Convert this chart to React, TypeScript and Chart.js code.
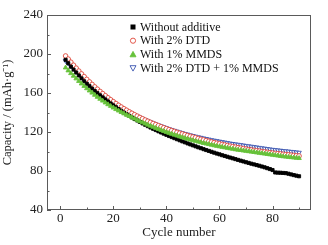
import React, { useEffect, useRef } from "react";
import { Chart, registerables } from "chart.js";

Chart.register(...registerables);

const cycles: number[] = [];
for (let c = 2; c <= 90; c++) cycles.push(c);

const withoutAdditive = [
  194, 190.5, 187, 184, 181, 178, 175, 172, 169.5, 167, 164.5, 162, 159.8, 157.6, 155.5, 153.4, 151.3, 149.3, 147.3,
  145.4, 143.5, 141.7, 139.9, 138.2, 136.5, 134.9, 133.3, 131.8, 130.3, 128.8, 127.4, 126, 124.6, 123.3, 122, 120.7,
  119.5, 118.3, 117.1, 115.9, 114.8, 113.7, 112.6, 111.5, 110.4, 109.4, 108.3, 107.3, 106.3, 105.3, 104.3, 103.4,
  102.4, 101.5, 100.6, 99.7, 98.8, 97.9, 97.1, 96.2, 95.4, 94.6, 93.8, 93, 92.2, 91.4, 90.6, 89.8, 89, 88.3, 87.5,
  86.8, 86.1, 85.4, 84.6, 83.8, 82.9, 82, 81, 78.5, 78.3, 78.2, 78, 77.8, 77.2, 76.5, 75.8, 75.2, 74.6,
];

const with2DTD = [
  198, 194.8, 191.6, 188.5, 185.5, 182.5, 179.6, 176.8, 174, 171.4, 168.8, 166.3, 163.9, 161.6, 159.4, 157.2, 155.1,
  153.1, 151.1, 149.2, 147.4, 145.6, 143.9, 142.3, 140.7, 139.2, 137.7, 136.3, 134.9, 133.6, 132.3, 131.1, 129.9,
  128.7, 127.6, 126.5, 125.4, 124.4, 123.4, 122.4, 121.5, 120.6, 119.7, 118.8, 118, 117.2, 116.4, 115.6, 114.9, 114.2,
  113.4, 112.6, 111.9, 111.2, 110.5, 109.8, 109.1, 108.5, 107.9, 107.3, 106.7, 106.1, 105.5, 105, 104.5, 104, 103.5,
  103, 102.5, 102, 101.6, 101.2, 100.8, 100.4, 100, 99.6, 99.2, 98.8, 98.4, 98.1, 97.8, 97.5, 97.2, 96.9, 96.6, 96.3,
  96, 95.7, 95.4,
];

const with1MMDS = [
  186, 183, 180.2, 177.5, 174.8, 172.2, 169.6, 167.1, 164.7, 162.4, 160.2, 158, 155.9, 153.9, 152, 150.1, 148.3, 146.6,
  144.9, 143.3, 141.8, 140.3, 138.9, 137.5, 136.2, 134.9, 133.6, 132.2, 130.9, 129.7, 128.5, 127.3, 126.2, 125.1, 124,
  122.9, 121.9, 120.9, 119.9, 118.9, 118, 117.1, 116.2, 115.3, 114.5, 113.7, 112.9, 112.1, 111.4, 110.7, 110, 109.3,
  108.6, 108, 107.4, 106.8, 106.2, 105.6, 105.1, 104.6, 104.1, 103.6, 103.1, 102.6, 102.1, 101.7, 101.3, 100.9, 100.5,
  100.1, 99.7, 99.3, 98.9, 98.5, 98.1, 97.7, 97.3, 96.9, 96.5, 96.1, 95.7, 95.3, 94.9, 94.6, 94.3, 94, 93.7, 93.4,
  93.1,
];

const withBoth = [
  193, 190.5, 188, 185.3, 182.5, 179.8, 177.1, 174.5, 171.9, 169.4, 167, 164.6, 162.3, 160.1, 158, 155.9, 153.9, 152,
  150.1, 148.3, 146.6, 144.9, 143.3, 141.8, 140.3, 138.9, 137.5, 136.2, 134.9, 133.7, 132.5, 131.3, 130.2, 129.1, 128,
  127, 126, 125, 124.1, 123.2, 122.3, 121.4, 120.6, 119.8, 119, 118.2, 117.5, 116.8, 116.1, 115.4, 114.8, 114.2, 113.6,
  113, 112.4, 111.8, 111.3, 110.8, 110.3, 109.8, 109.3, 108.8, 108.3, 107.9, 107.5, 107.1, 106.7, 106.3, 105.9, 105.5,
  105.1, 104.7, 104.3, 103.9, 103.5, 103.1, 102.7, 102.3, 101.9, 101.6, 101.3, 101, 100.7, 100.4, 100.1, 99.8, 99.5,
  99.2, 98.9,
];

const seriesLabels = ["Without additive", "With 2% DTD", "With 1% MMDS", "With 2% DTD + 1% MMDS"];
const xTicks = [0, 20, 40, 60, 80];
const xMinorTicks = [10, 30, 50, 70, 90];
const yTicks = [40, 80, 120, 160, 200, 240];
const yMinorTicks = [60, 100, 140, 180, 220];

const FONT = "'Liberation Serif', 'Times New Roman', serif";
const AXIS_COLOR = "#5a5a5a";

export default function App() {
  const ref = useRef<HTMLCanvasElement | null>(null);
  useEffect(() => {
    if (!ref.current) return;
    const toPts = (arr: number[]) => arr.map((v, i) => ({ x: cycles[i], y: v }));
    const styles = [
      { style: "rect", bg: "#000000", border: "#000000", radius: 2.2, rot: 0 },
      { style: "circle", bg: "#ffffff", border: "#e0473a", radius: 2.3, rot: 0 },
      { style: "triangle", bg: "#66c23a", border: "#66c23a", radius: 2.6, rot: 0 },
      { style: "triangle", bg: "#ffffff", border: "#3a55b0", radius: 2.6, rot: 180 },
    ];
    const allData = [withoutAdditive, with2DTD, with1MMDS, withBoth];
    const order = [2, 0, 1, 3];
    const datasets = order.map((k) => ({
      label: seriesLabels[k],
      data: toPts(allData[k]),
      showLine: false,
      pointStyle: styles[k].style as any,
      pointRadius: styles[k].radius,
      pointRotation: styles[k].rot,
      pointBackgroundColor: styles[k].bg,
      pointBorderColor: styles[k].border,
      pointBorderWidth: 0.9,
    }));

    function drawMarker(ctx: CanvasRenderingContext2D, k: number, x: number, y: number, bg: string, border: string) {
      ctx.beginPath();
      if (k === 0) {
        ctx.fillStyle = bg;
        ctx.fillRect(x - 2.5, y - 2.5, 5, 5);
        return;
      }
      if (k === 1) {
        ctx.arc(x, y, 2.6, 0, Math.PI * 2);
      } else if (k === 2) {
        ctx.moveTo(x, y - 3);
        ctx.lineTo(x + 3, y + 2.4);
        ctx.lineTo(x - 3, y + 2.4);
        ctx.closePath();
      } else {
        ctx.moveTo(x, y + 3);
        ctx.lineTo(x + 3, y - 2.4);
        ctx.lineTo(x - 3, y - 2.4);
        ctx.closePath();
      }
      ctx.fillStyle = bg;
      ctx.fill();
      ctx.lineWidth = 0.9;
      ctx.strokeStyle = border;
      ctx.stroke();
    }

    const decor = {
      id: "decor",
      afterDatasetsDraw(chart: any) {
        const ctx = chart.ctx;
        const { left, right, top, bottom } = chart.chartArea;
        const xs = chart.scales.x;
        const ys = chart.scales.y;
        ctx.save();
        ctx.strokeStyle = AXIS_COLOR;
        ctx.lineWidth = 1;
        ctx.strokeRect(left + 0.5, top + 0.5, right - left - 1, bottom - top - 1);
        ctx.beginPath();
        xTicks.forEach((t) => {
          const px = Math.round(xs.getPixelForValue(t)) + 0.5;
          ctx.moveTo(px, bottom);
          ctx.lineTo(px, bottom - 4);
        });
        xMinorTicks.forEach((t) => {
          const px = Math.round(xs.getPixelForValue(t)) + 0.5;
          ctx.moveTo(px, bottom);
          ctx.lineTo(px, bottom - 2.5);
        });
        yTicks.forEach((t) => {
          const py = Math.round(ys.getPixelForValue(t)) + 0.5;
          ctx.moveTo(left, py);
          ctx.lineTo(left + 4, py);
        });
        yMinorTicks.forEach((t) => {
          const py = Math.round(ys.getPixelForValue(t)) + 0.5;
          ctx.moveTo(left, py);
          ctx.lineTo(left + 2.5, py);
        });
        ctx.stroke();

        // legend
        const lx = 133;
        const ly0 = 27;
        const dy = 13.7;
        ctx.font = `12px ${FONT}`;
        ctx.textBaseline = "middle";
        ctx.textAlign = "left";
        [0, 1, 2, 3].forEach((k, i) => {
          const y = ly0 + i * dy;
          const s = styles[k];
          drawMarker(ctx, k, lx, y, s.bg, s.border);
          ctx.fillStyle = "#111";
          ctx.fillText(seriesLabels[k], lx + 7, y + 0.5);
        });
        ctx.restore();
      },
    };

    const chart = new Chart(ref.current, {
      type: "scatter",
      data: { datasets },
      plugins: [decor],
      options: {
        animation: false,
        responsive: false,
        maintainAspectRatio: false,
        devicePixelRatio: 1,
        layout: { padding: { left: 0, right: 17, top: 15, bottom: 5 } },
        plugins: { legend: { display: false }, tooltip: { enabled: false } },
        scales: {
          x: {
            type: "linear",
            min: -5,
            max: 94.5,
            afterBuildTicks: (s: any) => {
              s.ticks = xTicks.map((v) => ({ value: v }));
            },
            afterFit: (s: any) => {
              s.height = 30;
            },
            grid: { display: false, drawTicks: false },
            border: { display: false },
            ticks: {
              color: "#222",
              font: { family: FONT, size: 13 },
              padding: 1,
              maxRotation: 0,
            },
            title: {
              display: true,
              text: "Cycle number",
              color: "#222",
              font: { family: FONT, size: 13 },
              padding: { top: 0, bottom: 0 },
            },
          },
          y: {
            type: "linear",
            min: 40,
            max: 240,
            afterBuildTicks: (s: any) => {
              s.ticks = yTicks.map((v) => ({ value: v }));
            },
            afterFit: (s: any) => {
              s.width = 47;
            },
            grid: { display: false, drawTicks: false },
            border: { display: false },
            ticks: {
              color: "#222",
              font: { family: FONT, size: 13 },
              padding: 4,
            },
            title: {
              display: true,
              text: "Capacity / (mAh·g⁻¹)",
              color: "#222",
              font: { family: FONT, size: 12.5 },
              padding: { top: 0, bottom: 0 },
            },
          },
        },
      } as any,
    });
    return () => chart.destroy();
  }, []);

  return (
    <div style={{ position: "fixed", left: 0, top: 0, width: 328, height: 245, background: "#fff" }}>
      <canvas ref={ref} width={328} height={245} style={{ width: 328, height: 245, display: "block" }} />
    </div>
  );
}
